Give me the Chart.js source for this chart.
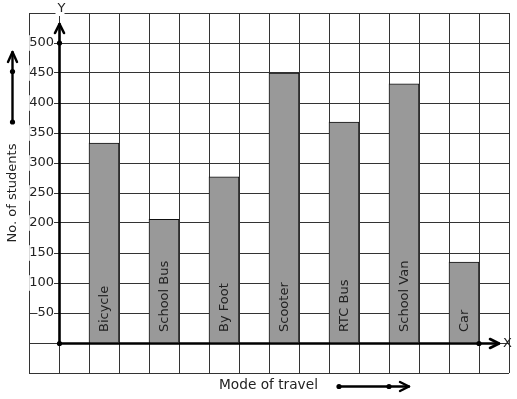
<!DOCTYPE html>
<html><head><meta charset="utf-8">
<script src="https://cdn.jsdelivr.net/npm/chart.js@4/dist/chart.umd.min.js"></script>
<style>html,body{margin:0;padding:0;background:#fff;} #wrap{width:517px;height:399px;position:relative;}</style>
</head><body><div id="wrap"><canvas id="c"></canvas></div>
<script>
// ---- data ----
const categories = ['Bicycle', 'School Bus', 'By Foot', 'Scooter', 'RTC Bus', 'School Van', 'Car'];
const students = [333, 206, 277, 450, 368, 432, 135];
const yTickLabels = [50, 100, 150, 200, 250, 300, 350, 400, 450, 500];
const xTitle = 'Mode of travel';
const yTitle = 'No. of students';

// grid slots: one empty column, y-axis column, then each bar followed by a gap column
const slots = ['', ''];
const slotValues = [null, null];
categories.forEach((c, i) => { slots.push(c, ''); slotValues.push(students[i], null); });

const FONT = "'DejaVu Sans', sans-serif";
const INK = '#222';

function dot(ctx, x, y) { ctx.beginPath(); ctx.arc(x, y, 2.6, 0, Math.PI * 2); ctx.fill(); }

const decor = {
  id: 'decor',
  afterDatasetsDraw(chart) {
    const ctx = chart.ctx;
    const meta = chart.getDatasetMeta(0);
    const base = chart.scales.y.getPixelForValue(0);
    ctx.save();
    ctx.fillStyle = INK;
    ctx.font = '13px ' + FONT;
    ctx.textAlign = 'left';
    ctx.textBaseline = 'middle';
    meta.data.forEach((bar, i) => {
      const lab = chart.data.labels[i];
      if (!lab || slotValues[i] == null) return;
      ctx.save();
      ctx.translate(bar.x + 0.5, base - 11);
      ctx.rotate(-Math.PI / 2);
      ctx.fillText(lab, 0, 0);
      ctx.restore();
    });
    ctx.restore();
  },
  afterDraw(chart) {
    const ctx = chart.ctx;
    const xs = chart.scales.x, ys = chart.scales.y, ca = chart.chartArea;
    const x0 = Math.round(xs.getPixelForValue(0.5)) + 0.5;
    const y0 = Math.round(ys.getPixelForValue(0)) + 0.5;
    const yTop = ca.top + 11;
    const xEnd = ca.right - 10;
    ctx.save();
    ctx.strokeStyle = '#000';
    ctx.fillStyle = '#000';
    ctx.lineWidth = 2.6;
    ctx.lineCap = 'round';
    ctx.lineJoin = 'round';
    // axes
    ctx.beginPath(); ctx.moveTo(x0, y0); ctx.lineTo(x0, yTop); ctx.stroke();
    ctx.beginPath(); ctx.moveTo(x0 - 4.5, yTop + 9); ctx.lineTo(x0, yTop); ctx.lineTo(x0 + 4.5, yTop + 9); ctx.stroke();
    ctx.beginPath(); ctx.moveTo(x0, y0); ctx.lineTo(xEnd, y0); ctx.stroke();
    ctx.beginPath(); ctx.moveTo(xEnd - 9, y0 - 4.5); ctx.lineTo(xEnd, y0); ctx.lineTo(xEnd - 9, y0 + 4.5); ctx.stroke();
    // dots
    const meta = chart.getDatasetMeta(0);
    const last = meta.data[slots.length - 2];
    dot(ctx, x0, y0);
    dot(ctx, x0, ys.getPixelForValue(yTickLabels[yTickLabels.length - 1]));
    dot(ctx, last.x + last.width / 2, y0);
    // decorative arrows
    ctx.lineWidth = 2.4;
    ctx.beginPath(); ctx.moveTo(12.5, 122); ctx.lineTo(12.5, 52); ctx.stroke();
    ctx.beginPath(); ctx.moveTo(8, 62); ctx.lineTo(12.5, 52); ctx.lineTo(17, 62); ctx.stroke();
    dot(ctx, 12.5, 122); dot(ctx, 12.5, 71.5);
    ctx.beginPath(); ctx.moveTo(339, 386.5); ctx.lineTo(409, 386.5); ctx.stroke();
    ctx.beginPath(); ctx.moveTo(400, 382); ctx.lineTo(409, 386.5); ctx.lineTo(400, 391); ctx.stroke();
    dot(ctx, 339, 386.5); dot(ctx, 389, 386.5);
    // axis letters
    ctx.font = '13px ' + FONT;
    ctx.textBaseline = 'middle';
    ctx.textAlign = 'center';
    ctx.fillStyle = '#fff';
    ctx.fillRect(x0 - 4, ca.top - 3, 9, 6);
    ctx.fillStyle = INK;
    ctx.fillText('Y', x0 + 2, 9);
    ctx.textAlign = 'left';
    ctx.fillText('X', xEnd + 4, y0);
    // titles
    ctx.textAlign = 'center';
    ctx.save();
    ctx.font = '13.7px ' + FONT;
    ctx.fillText(xTitle, 268.5, 385);
    ctx.restore();
    ctx.save();
    ctx.translate(12.5, 193);
    ctx.rotate(-Math.PI / 2);
    ctx.fillText(yTitle, 0, 0);
    ctx.restore();
    ctx.restore();
  }
};

new Chart(document.getElementById('c'), {
  type: 'bar',
  data: {
    labels: slots,
    datasets: [{
      data: slotValues,
      backgroundColor: '#999999',
      borderColor: '#111',
      borderWidth: 1,
      borderSkipped: 'bottom',
      barPercentage: 1,
      categoryPercentage: 1
    }]
  },
  options: {
    responsive: true,
    maintainAspectRatio: false,
    animation: false,
    events: [],
    layout: { padding: { left: 29, top: 13, right: 8, bottom: 26 } },
    plugins: { legend: { display: false }, tooltip: { enabled: false }, title: { display: false } },
    scales: {
      x: {
        type: 'category',
        position: { y: 0 },
        offset: true,
        grid: { display: true, offset: true, color: '#333', lineWidth: 1, drawTicks: false },
        border: { display: false },
        ticks: { display: false }
      },
      y: {
        type: 'linear',
        // tick labels anchored just left of the y-axis column boundary
        position: { x: 1 / 3 },
        min: -50,
        max: 550,
        grid: { color: '#333', lineWidth: 1, drawTicks: false },
        border: { display: false },
        ticks: {
          stepSize: 50,
          color: INK,
          font: { family: FONT, size: 13 },
          callback: (v) => yTickLabels.includes(v) ? String(v) : '',
          showLabelBackdrop: true,
          backdropColor: '#fff',
          backdropPadding: 0
        }
      }
    }
  },
  plugins: [decor]
});
</script>
</body></html>
